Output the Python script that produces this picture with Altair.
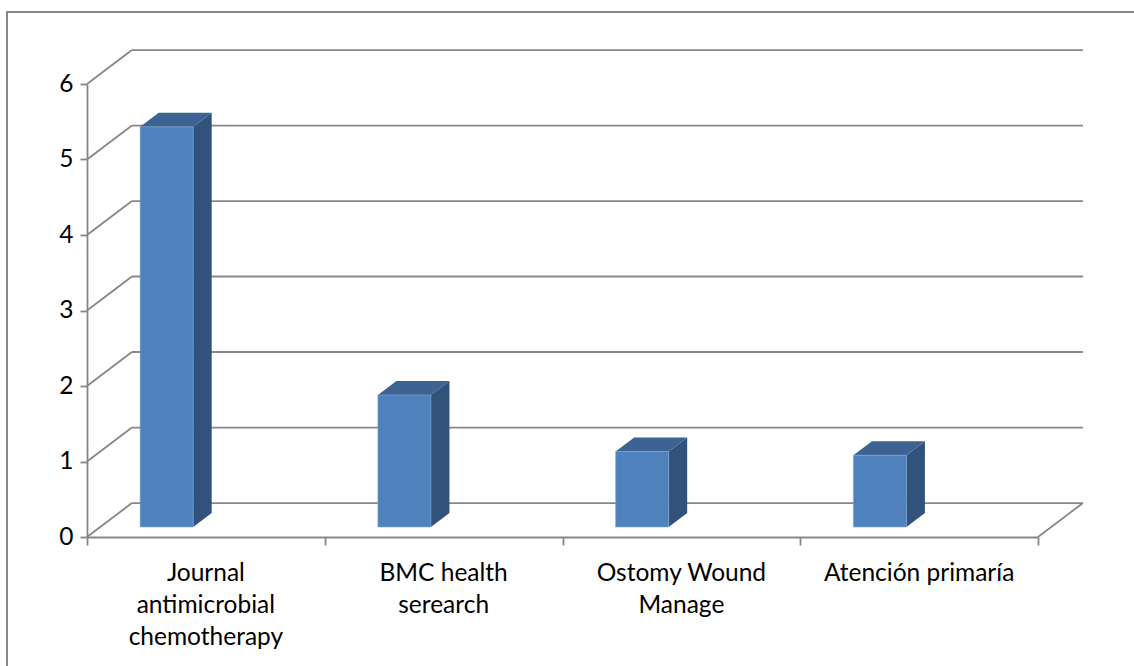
import altair as alt
import pandas as pd

# ---- data ----
categories = ["Journal antimicrobial chemotherapy", "BMC health serearch",
              "Ostomy Wound Manage", "Atención primaría"]
label_lines = ["Journal\nantimicrobial\nchemotherapy", "BMC health\nserearch",
               "Ostomy Wound\nManage", "Atención primaría"]
values = [5.3, 1.75, 1.0, 0.95]
y_ticks = [0, 1, 2, 3, 4, 5, 6]

# ---- 3D projection parameters (data units) ----
DX = 0.189      # wall depth, horizontal (category units)
DY = 0.45       # wall depth, vertical (value units)
D0, D1 = 0.294, 0.706   # bar depth range as fraction of wall depth
BAR_OFF, BAR_W = 0.168, 0.223

FONT = "Lato"
GRID = "#878787"
FRONT, SIDE, TOP = "#4F81BD", "#31527B", "#3C6391"

n = len(categories)

# grid: back wall lines and left wall diagonals
back = pd.DataFrame({"x": [DX] * len(y_ticks), "x2": [n + DX] * len(y_ticks),
                     "y": [t + DY for t in y_ticks], "y2": [t + DY for t in y_ticks]})
diag = pd.DataFrame({"x": [0] * len(y_ticks), "x2": [DX] * len(y_ticks),
                     "y": y_ticks, "y2": [t + DY for t in y_ticks]})
floor_r = pd.DataFrame({"x": [n], "x2": [n + DX], "y": [0], "y2": [DY]})
grid_df = pd.concat([back, diag, floor_r], ignore_index=True)

front_rows, side_rows, top_rows = [], [], []
for i, (c, v) in enumerate(zip(categories, values)):
    xl = i + D0 * DX + BAR_OFF
    xr = xl + BAR_W
    front_rows.append({"cat": c, "x": xl, "x2": xr, "y": D0 * DY, "y2": v + D0 * DY})
    for d in (D0, D1):
        sh = (d - D0) * DX
        side_rows.append({"cat": c, "x": xr + sh, "y": d * DY, "y2": v + d * DY})
        top_rows.append({"cat": c, "y": v + d * DY, "x": xl + sh, "x2": xr + sh})

front_df = pd.DataFrame(front_rows)
side_df = pd.DataFrame(side_rows)
top_df = pd.DataFrame(top_rows)
lab_df = pd.DataFrame({"x": [i + 0.5 for i in range(n)], "label": label_lines})

xs = alt.Scale(domain=[0, n], nice=False, zero=False)
ys = alt.Scale(domain=[0, 6], nice=False)

frame = alt.Chart(pd.DataFrame({"a": [0]})).mark_rect(
    fill=None, stroke=GRID, strokeWidth=2
).encode(x=alt.value(-80), x2=alt.value(1140), y=alt.value(-72), y2=alt.value(700))

axes = alt.Chart(pd.DataFrame({"x": [0], "y": [0]})).mark_point(opacity=0).encode(
    x=alt.X("x:Q", scale=xs, axis=alt.Axis(values=list(range(n + 1)), labels=False,
                                           title=None, grid=False, tickSize=8)),
    y=alt.Y("y:Q", scale=ys, axis=alt.Axis(values=y_ticks, title=None, grid=False,
                                           format="d", tickSize=7, labelPadding=7)),
)

grid = alt.Chart(grid_df).mark_rule(color=GRID, strokeWidth=1.8).encode(
    x=alt.X("x:Q", scale=xs), x2="x2:Q", y=alt.Y("y:Q", scale=ys), y2="y2:Q")

front = alt.Chart(front_df).mark_rect(color=FRONT, stroke="#7FA3D3", strokeWidth=0.6).encode(
    x=alt.X("x:Q", scale=xs), x2="x2:Q", y=alt.Y("y:Q", scale=ys), y2="y2:Q")

side = alt.Chart(side_df).mark_area(color=SIDE).encode(
    x=alt.X("x:Q", scale=xs), y=alt.Y("y:Q", scale=ys), y2="y2:Q", detail="cat:N")

top = alt.Chart(top_df).mark_area(color=TOP, orient="horizontal").encode(
    y=alt.Y("y:Q", scale=ys), x=alt.X("x:Q", scale=xs), x2="x2:Q", detail="cat:N")

labels = alt.Chart(lab_df).mark_text(
    font=FONT, fontSize=24.5, color="black", baseline="top", align="center",
    lineBreak="\n", lineHeight=32
).encode(x=alt.X("x:Q", scale=xs), y=alt.value(478), text="label:N")

chart = alt.layer(frame, axes, grid, side, top, front, labels).properties(
    width=951, height=453,
    autosize=alt.AutoSizeParams(type="none"),
    padding={"left": 87, "top": 84, "right": 96, "bottom": 129},
    background="white",
).configure_view(stroke=None).configure_axis(
    domainColor=GRID, domainWidth=1.8, tickColor=GRID, tickWidth=1.8,
    labelFont=FONT, labelFontSize=24.5, labelColor="black"
)

chart.save("out.html", embed_options={"renderer": "svg", "actions": False})
